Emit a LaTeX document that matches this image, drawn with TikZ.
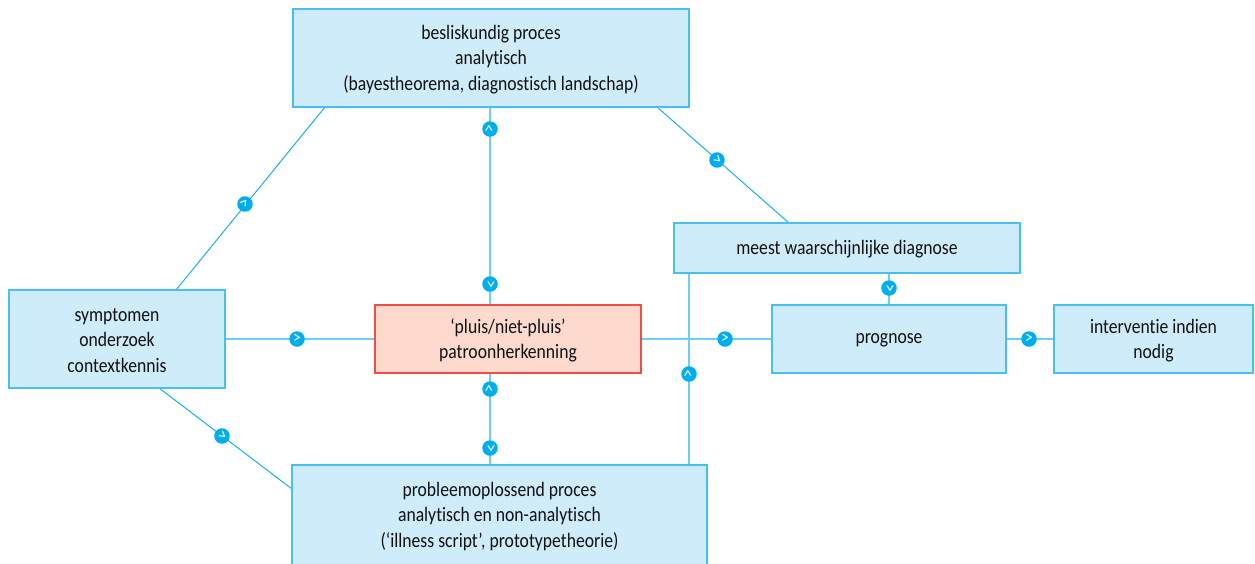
\documentclass[tikz,border=0pt]{standalone}
\usepackage{fontspec}
\setmainfont[FakeStretch=0.86,Ligatures=NoCommon]{Carlito}
\usetikzlibrary{calc}
\definecolor{cyanline}{HTML}{00AEEF}
\definecolor{cyansoft}{HTML}{6DCFF6}
\definecolor{boxline}{HTML}{45C0F0}
\definecolor{boxfill}{HTML}{CFECFA}
\definecolor{redline}{HTML}{F04E45}
\definecolor{redfill}{HTML}{FDDACD}
\definecolor{ink}{HTML}{111111}
\tikzset{
  x=1pt,y=-1pt,
  bluebox/.style={rectangle,draw=boxline,fill=boxfill,line width=1.1pt,inner sep=0pt},
  redbox/.style={bluebox,draw=redline,fill=redfill},
  boxtext/.style={inner sep=0pt,align=center,text=ink,font=\fontsize{20.5}{25.5}\selectfont,yshift=-1.5pt},
  link/.style={draw=cyanline,line width=.9pt},
  softlink/.style={draw=cyansoft,line width=1.6pt},
  bub/.style={circle,fill=cyanline,minimum size=15.5pt,inner sep=0pt,text=white,font=\fontsize{18}{18}\selectfont},
}
\newcommand{\boxat}[7][bluebox]{%
  \node[#1,minimum width=#6pt-#4pt,minimum height=#7pt-#5pt] (#2) at ({(#4+#6)/2},{(#5+#7)/2}) {};
  \node[boxtext] (#2text) at (#2.center) {#3};}
\begin{document}
\begin{tikzpicture}
\useasboundingbox (0,0) rectangle (1255,563);
\begin{scope}
\clip (0,0) rectangle (1255,563);
\coordinate (topA) at (325,107);
\coordinate (leftA) at (176,290);
\coordinate (topB) at (657,107);
\coordinate (meestB) at (789,223);
\coordinate (leftC) at (159,388);
\coordinate (botC) at (292,489);
\coordinate (topD) at (490,107);
\coordinate (redD) at (490,305);
\coordinate (redE) at (490,373);
\coordinate (botE) at (490,465);
\coordinate (meestF) at (689,273);
\coordinate (botF) at (689,465);
\coordinate (meestG) at (889,273);
\coordinate (progG) at (889,305);
\coordinate (leftH) at (225,339);
\coordinate (redH) at (375,339);
\coordinate (redI) at (641,339);
\coordinate (progI) at (772,339);
\coordinate (progJ) at (1006,339);
\coordinate (intJ) at (1054,339);
\draw[link] (topA) -- (leftA);
\draw[link] (topB) -- (meestB);
\draw[link] (leftC) -- (botC);
\draw[softlink] (topD) -- (redD);
\draw[softlink] (redE) -- (botE);
\draw[softlink] (meestF) -- (botF);
\draw[softlink] (meestG) -- (progG);
\draw[softlink] (leftH) -- (redH);
\draw[softlink] (redI) -- (progI);
\draw[softlink] (progJ) -- (intJ);
\boxat{top}{besliskundig proces\\analytisch\\(bayestheorema, diagnostisch landschap)}{293}{9}{689}{107}
\boxat{left}{symptomen\\onderzoek\\contextkennis}{9}{290}{225}{388}
\boxat[redbox]{mid}{‘pluis/niet-pluis’\\patroonherkenning}{375}{305}{641}{373}
\boxat{meest}{meest waarschijnlijke diagnose}{674}{223}{1020}{273}
\boxat{prog}{prognose}{772}{305}{1006}{373}
\boxat{interv}{interventie indien\\nodig}{1054}{305}{1253}{373}
\boxat{bot}{probleemoplossend proces\\analytisch en non-analytisch\\(‘illness script’, prototypetheorie)}{292}{465}{707}{565}
\node[bub,rotate=52] (b1) at (245,204) {>};
\node[bub,rotate=90] (b2) at (490,129) {>};
\node[bub,rotate=-90] (b3) at (490,284) {>};
\node[bub,rotate=-40] (b4) at (717,160) {>};
\node[bub] (b5) at (297,339) {>};
\node[bub] (b6) at (725,339) {>};
\node[bub] (b7) at (1029,339) {>};
\node[bub,rotate=-90] (b8) at (889,288) {>};
\node[bub,rotate=90] (b9) at (689,374) {>};
\node[bub,rotate=90] (b10) at (490,389) {>};
\node[bub,rotate=-90] (b11) at (490,448) {>};
\node[bub,rotate=-37] (b12) at (222,436) {>};
\end{scope}
\end{tikzpicture}
\end{document}
